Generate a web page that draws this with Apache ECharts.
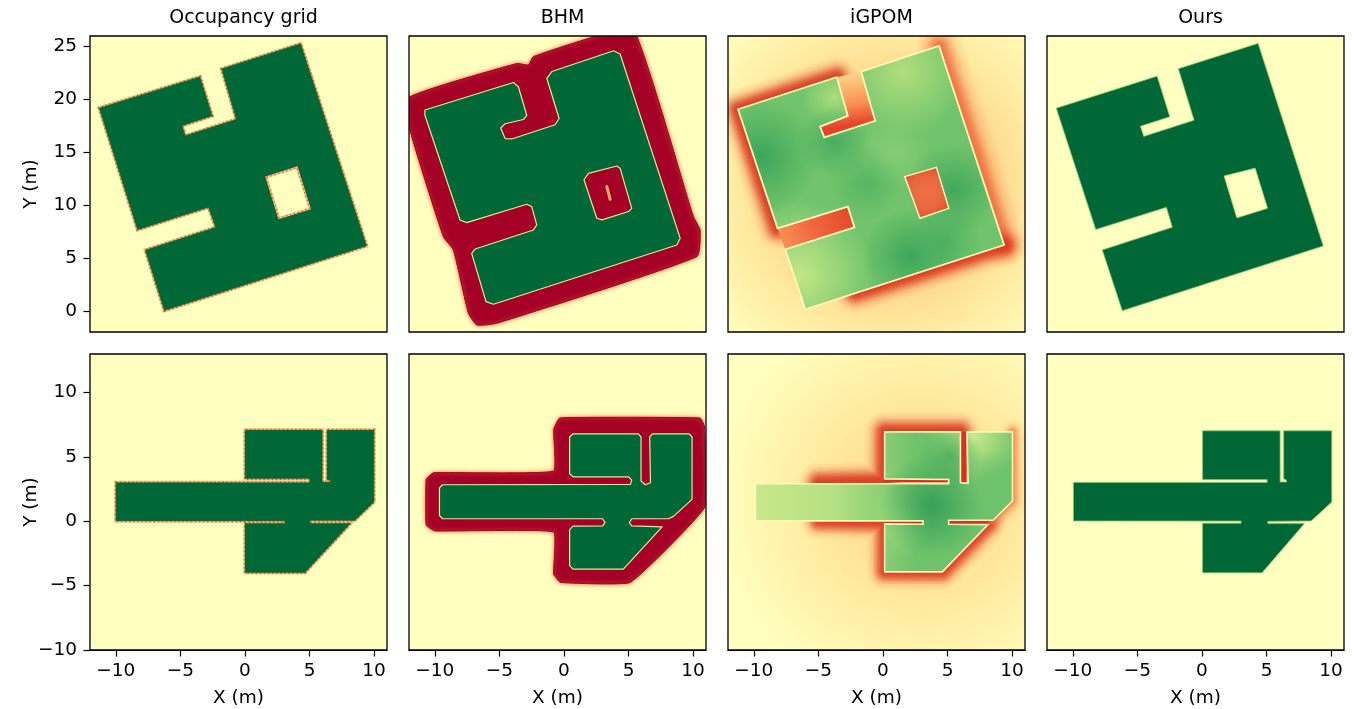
<!DOCTYPE html>
<html>
<head>
<meta charset="utf-8">
<script src="https://cdn.jsdelivr.net/npm/echarts@6/dist/echarts.min.js"></script>
<style>
  html, body { margin: 0; background: #fff; }
  #chart { width: 1357px; height: 709px; }
</style>
</head>
<body>
<div id="chart"></div>
<script>
// labels
const titles = ["Occupancy grid", "BHM", "iGPOM", "Ours"];
const xName = "X (m)";
const yName = "Y (m)";

// axis limits and ticks, row 0 = rotated room, row 1 = corridor map
const xLimTop = [-7, 21];
const yLimTop = [-2, 26];
const xLimBottom = [-12, 11];
const yLimBottom = [-10, 13];
const yTicksTop = [0, 5, 10, 15, 20, 25];
const xTicksBottom = [-10, -5, 0, 5, 10];
const yTicksBottom = [-10, -5, 0, 5, 10];

// outlines, in metres
const occTop = [[0,0],[19.1,6.14],[12.87,25.3],[5.39,22.9],[6.77,18.13],[1.99,16.58],[1.71,17.5],[4.54,18.44],[3.38,22.16],[-6.15,19.2],[-2.53,7.65],[4.16,9.77],[4.82,7.9],[-1.81,5.76]];
const occTopHole = [[9.63,12.64],[12.5,13.55],[13.72,9.67],[10.83,8.79]];
const occBottom = [[-10,3.02],[5,3.02],[5,3.3],[0,3.3],[0,7.1],[6,7.1],[6,3.05],[6.6,3.05],[6.6,3.2],[6.35,3.2],[6.35,7.1],[10,7.1],[10,1.5],[8.5,0.05],[5.05,0.05],[5.05,-0.15],[8.2,-0.15],[4.65,-4],[0,-4],[0,-0.15],[3.1,-0.15],[3.1,0.02],[-10,0.02]];

const bhmTopOuter = [[-7,20.2],[3.16,23.4],[4.26,23.27],[4.73,24.05],[10.7,26],[14.2,26.6],[19.82,8.9],[20.45,7.65],[20.14,5.13],[1.27,-1.18],[-0.6,-1.34],[-1.4,-0.23],[-2.82,5.76],[-3.76,7.02],[-7,17.43]];
const bhmTopInner = [[-5.5,19],[2.84,21.6],[3.31,21.2],[4.1,18.5],[3.79,18.1],[2.06,17.7],[1.65,17.3],[2.06,16.3],[2.69,16.26],[6.77,17.6],[7.15,18.2],[5.99,22],[6.46,22.64],[12.3,24.6],[12.9,24.3],[18.57,6.86],[18.25,6.23],[0.96,0.62],[0.26,0.87],[-1.09,5.44],[-0.77,5.85],[4.73,7.65],[5.04,8.13],[4.57,9.86],[4.1,10.08],[-1.56,8.35],[-2.19,8.6],[-5.5,18.5]];
const bhmTopHole = [[9.92,13],[12.6,13.7],[12.9,13.5],[14,9.7],[13.7,9.4],[11.2,8.6],[10.7,8.76],[9.5,12.4]];
const bhmTopSpot = [[11.65,11.75],[11.96,10.55]];
const bhmBottomOuter = [[-10.67,3.26],[-10.1,3.77],[-0.8,3.9],[-0.8,7.13],[-0.33,8.03],[10.54,8.03],[10.88,7.4],[10.88,1.06],[5.14,-4.75],[-0.28,-4.75],[-0.8,-4.1],[-0.8,-0.83],[-10,-0.75],[-10.67,-0.3]];
const bhmBottomInner = [[-9.64,2.6],[-9.4,2.84],[5.15,2.87],[5.25,3.2],[5,3.46],[0.7,3.46],[0.44,3.7],[0.44,6.55],[0.7,6.8],[5.75,6.8],[5.97,6.55],[5.97,3.13],[6.3,2.84],[6.7,3],[6.64,6.55],[6.85,6.8],[9.7,6.8],[9.92,6.55],[9.92,1.7],[8.5,0.4],[8.1,0.2],[5.25,0.2],[5.06,-0.1],[5.25,-0.36],[7.6,-0.44],[4.6,-3.72],[0.7,-3.72],[0.44,-3.45],[0.44,-0.65],[0.7,-0.38],[3.0,-0.36],[3.18,-0.1],[3.0,0.2],[-9.4,0.2],[-9.64,0.45]];

const gpTop = [[-6.05,19.07],[3.25,22.1],[4.3,18.44],[1.68,17.43],[2.08,16.42],[6.88,17.97],[5.55,22.64],[12.9,25.06],[19.03,6.23],[0.29,0.14],[-1.6,5.82],[4.92,7.9],[4.3,9.86],[-2.33,7.8]];
const gpTopHole = [[9.66,12.7],[12.65,13.58],[13.82,9.7],[11.1,8.76]];
const gpTopNotch = [[3.25,22.1],[4.3,18.44],[1.68,17.43],[2.08,16.42],[6.88,17.97],[5.55,22.64]];
const gpTopSlot = [[-2.33,7.8],[4.3,9.86],[4.92,7.9],[-1.6,5.82]];
const gpTopWallA = [[-2.33,7.8],[-6.05,19.07],[3.25,22.1]];
const gpTopWallB = [[19.03,6.23],[5,1.7]];
const gpTopWallC = [[12.9,25.06],[19.03,6.23]];

const gpBottom = [[-9.87,2.92],[5.09,2.92],[5.09,3.25],[0.13,3.3],[0.13,6.95],[6,6.95],[6,3],[6.6,2.95],[6.5,6.95],[10.03,6.95],[10.03,1.58],[8.53,0.08],[5.09,0.08],[5.09,-0.23],[8.14,-0.26],[4.6,-3.93],[0.13,-3.93],[0.13,-0.2],[3.1,-0.23],[3.1,0.03],[-9.87,0.03]];
const gpBottomWallA = [[-5,3],[0.13,3.1],[0.13,6.95],[6,6.95]];
const gpBottomWallB = [[-5,0],[0.13,-0.1],[0.13,-3.93],[4.6,-3.93],[8.14,-0.26]];
const gpBottomWallC = [[0.13,3.15],[5.09,3.15]];
const gpBottomWallD = [[6.25,6.95],[6.25,3]];
const gpBottomWallE = [[0.13,-0.1],[3.1,-0.1]];
const gpBottomWallF = [[5.09,-0.1],[8.14,-0.1]];
const gpBottomWallG = [[10.03,6.95],[10.03,1.58],[8.53,0.08]];

const oursTop = [[-6.12,19.17],[3.38,22.2],[4.57,18.36],[1.8,17.47],[2.12,16.5],[6.87,18.03],[5.39,22.9],[12.9,25.3],[19.04,6.14],[0.1,0.02],[-1.78,5.76],[4.82,7.9],[4.26,9.8],[-2.4,7.7]];
const oursTopHole = [[9.7,12.76],[12.62,13.49],[13.79,9.7],[10.9,8.8]];
const oursBottom = [[-9.95,3.02],[5.05,3.02],[5.05,3.25],[0.05,3.25],[0.05,7.03],[6.05,7.03],[6.05,3.05],[6.55,3.05],[6.55,3.2],[6.33,3.3],[6.33,7.03],[10.05,7.03],[10.05,1.5],[8.45,0.03],[5.1,0],[5.1,-0.18],[7.93,-0.18],[4.65,-4],[0.05,-4],[0.05,-0.15],[3.03,-0.15],[3.03,0.02],[-9.95,0.03]];

// RdYlGn ends
const CREAM = "#ffffbf", GREEN = "#006837", RED = "#a50026";

function occLayers(shape, hole) {
  const out = [
    { pts: shape, fill: GREEN, stroke: "#fdbf80", lw: 3.2 },
    { pts: shape, stroke: "#ee5535", lw: 2.4, dash: [1.5, 2.6] },
    { pts: shape, fill: GREEN, stroke: "#3f8a3f", lw: 0.4 }
  ];
  if (hole) {
    out.push({ pts: hole, fill: CREAM, stroke: "#fdbf80", lw: 2 });
    out.push({ pts: hole, stroke: "#ee5535", lw: 1.3, dash: [1.5, 2.6] });
  }
  return out;
}

function oursLayers(shape, hole) {
  const out = [{ pts: shape, fill: GREEN, stroke: "#7fbf5f", lw: 0.8 }];
  if (hole) out.push({ pts: hole, fill: CREAM, stroke: "#b5d97a", lw: 0.8 });
  return out;
}

// halo along a wall: stacked see-through strokes, wide to narrow, denser near the wall
function glow(pts, rgb, maxWidth, alpha) {
  const out = [];
  for (let w = maxWidth; w > 0; w -= 3) {
    const t = 1 - w / maxWidth;
    const color = "rgba(" + rgb + "," + (alpha * (0.06 + 0.94 * t * t)).toFixed(3) + ")";
    out.push({ pts, open: true, stroke: color, lw: w, blur: 7, shadow: color, join: "round", cap: "round" });
  }
  return out;
}
// soft round patch of colour, always painted through the room outline
function blob(shape, c, r, color) {
  return { pts: shape, radial: { c, r, stops: [color, color.replace(/[\d.]+\)$/, "0)")] } };
}

const panelLayers = [
  occLayers(occTop, occTopHole),
  [
    { pts: bhmTopOuter, fill: RED, stroke: RED, lw: 1, blur: 4, shadow: "#ee7a45", smooth: 0.15 },
    { pts: bhmTopInner, fill: GREEN, stroke: "#dcec9a", lw: 1.2, join: "round" },
    { pts: bhmTopHole, fill: RED, stroke: "#dcec9a", lw: 1.2, join: "round" },
    { pts: bhmTopSpot, open: true, stroke: "#f8b060", lw: 3, cap: "round" }
  ],
  [
    { pts: [[-7,-2],[21,-2],[21,26],[-7,26]], radial: { c: [8, 12], r: 21, stops: ["#fcc076", "#fdcc82", "#feeaa0", "#ffffbf"] } },
    ...glow(gpTopWallC, "238,106,60", 48, 0.3),
    ...glow(gpTopWallA, "222,60,38", 40, 0.5),
    ...glow(gpTopWallB, "222,60,38", 40, 0.5),
    { pts: gpTopNotch, gradient: { from: [5.2, 17.6], to: [4.4, 23.5], stops: ["#e2432a", "#f98e52", "#fcc078", "#fee6a0"] } },
    { pts: gpTopSlot, gradient: { from: [4.6, 8.8], to: [-2.5, 6.6], stops: ["#e44a2c", "#f1683e", "#f99556"] } },
    { pts: gpTop, fill: "#72c46c" },
    blob(gpTop, [-0.3, 3.4], 7, "rgba(196,230,136,1)"),
    blob(gpTop, [9.5, 22.6], 6, "rgba(176,222,126,1)"),
    blob(gpTop, [3, 20.2], 3, "rgba(170,220,122,1)"),
    blob(gpTop, [8.5, 15], 3.5, "rgba(140,208,120,0.8)"),
    blob(gpTop, [-3.9, 14.6], 5.5, "rgba(60,165,90,1)"),
    blob(gpTop, [10.2, 5.2], 4.5, "rgba(60,165,90,1)"),
    blob(gpTop, [13.5, 6.5], 3.5, "rgba(70,170,95,0.8)"),
    blob(gpTop, [14.3, 11.5], 4.5, "rgba(65,168,92,1)"),
    blob(gpTop, [3, 16], 3.5, "rgba(68,170,95,0.9)"),
    blob(gpTop, [6, 12], 3.5, "rgba(80,178,100,0.8)"),
    { pts: gpTop, stroke: "#fdf6b4", lw: 1.8 },
    { pts: gpTopHole, radial: { c: [11.7, 11.2], r: 2.9, stops: ["#ed7148", "#ea6840", "#dc4a2c"] }, stroke: "#fdf6b4", lw: 1.4 }
  ],
  oursLayers(oursTop, oursTopHole),
  occLayers(occBottom),
  [
    { pts: bhmBottomOuter, fill: RED, stroke: RED, lw: 1, blur: 4, shadow: "#ee7a45", smooth: 0.1 },
    { pts: bhmBottomInner, fill: GREEN, stroke: "#dcec9a", lw: 1.2, join: "round" }
  ],
  [
    { pts: [[-12,-10],[11,-10],[11,13],[-12,13]], radial: { c: [3, 1.5], r: 16, stops: ["#fdd58a", "#fee296", "#fff1aa", "#ffffbf"] } },
    ...glow(gpBottomWallA, "222,60,38", 40, 0.5),
    ...glow(gpBottomWallB, "222,60,38", 36, 0.5),
    ...glow(gpBottomWallG, "238,106,60", 26, 0.35),
    { pts: gpBottomWallC, open: true, stroke: "#d73027", lw: 3 },
    { pts: gpBottomWallD, open: true, stroke: "#d73027", lw: 6 },
    { pts: gpBottomWallE, open: true, stroke: "#d73027", lw: 3 },
    { pts: gpBottomWallF, open: true, stroke: "#d73027", lw: 3 },
    { pts: gpBottom, gradient: { from: [-10, 0], to: [2.5, 0], stops: ["#c9e88c", "#b5e083", "#6fc26b"] } },
    blob(gpBottom, [7, 6.6], 3.6, "rgba(205,234,140,1)"),
    blob(gpBottom, [1, 0], 2.8, "rgba(150,214,122,1)"),
    blob(gpBottom, [3.8, 1.2], 4, "rgba(55,160,88,1)"),
    blob(gpBottom, [5.2, 5], 2.5, "rgba(70,170,95,0.8)"),
    blob(gpBottom, [8.7, 3], 2.5, "rgba(110,195,108,0.8)"),
    { pts: gpBottom, stroke: "#fdf6b4", lw: 1.6 }
  ],
  oursLayers(oursBottom)
];

// grid boxes of the subplots, in pixels
const colLeft = [90, 409, 728, 1047];
const rowTop = [36, 354];
const boxW = 297;
const boxH = 296;
const fontFamily = "DejaVu Sans";
const labelFont = 18.5;

function renderLayer(panel, params, api) {
  const layer = panelLayers[panel][params.dataIndex];
  const pts = layer.pts.map(p => api.coord(p));
  let fill = layer.fill || null;
  if (layer.gradient) {
    const g = layer.gradient;
    const a = api.coord(g.from), b = api.coord(g.to);
    const stops = g.stops.map((c, i) => ({ offset: i / (g.stops.length - 1), color: c }));
    fill = new echarts.graphic.LinearGradient(a[0], a[1], b[0], b[1], stops, true);
  }
  if (layer.radial) {
    const g = layer.radial;
    const a = api.coord(g.c), b = api.coord([g.c[0] + g.r, g.c[1]]);
    const stops = g.stops.map((c, i) => ({ offset: i / (g.stops.length - 1), color: c }));
    fill = new echarts.graphic.RadialGradient(a[0], a[1], b[0] - a[0], stops, true);
  }
  const style = {
    fill: layer.open ? null : fill,
    stroke: layer.stroke || null,
    lineWidth: layer.lw || 0,
    shadowBlur: layer.blur || 0,
    shadowColor: layer.shadow || "transparent",
    lineJoin: layer.join || "miter",
    lineCap: layer.cap || "butt"
  };
  if (layer.dash) style.lineDash = layer.dash;
  const shape = { points: pts };
  if (layer.smooth) shape.smooth = layer.smooth;
  return { type: layer.open ? "polyline" : "polygon", shape: shape, style: style };
}

const grids = [], xAxes = [], yAxes = [], series = [], titleOpts = [];
const axisText = { color: "#000", fontFamily: fontFamily, fontSize: labelFont };
const minusFmt = v => String(v).replace("-", "\u2212");
const tickLine = { color: "#000", width: 1.2 };

rowTop.forEach((top, r) => {
  colLeft.forEach((left, c) => {
    const idx = r * 4 + c;
    grids.push({
      left: left, top: top, width: boxW, height: boxH,
      show: true, z: 10, containLabel: false, outerBoundsMode: "none",
      backgroundColor: "transparent", borderColor: "#000", borderWidth: 1.3
    });
    const xl = r === 0 ? xLimTop : xLimBottom;
    const yl = r === 0 ? yLimTop : yLimBottom;
    const yTicks = r === 0 ? yTicksTop : yTicksBottom;
    xAxes.push({
      type: "value", gridIndex: idx, min: xl[0], max: xl[1],
      name: r === 1 ? xName : "", nameLocation: "middle", nameGap: 39, nameMoveOverlap: false,
      nameTextStyle: axisText,
      splitLine: { show: false },
      axisLine: { show: r === 1, onZero: false, lineStyle: tickLine },
      axisTick: r === 1
        ? { show: true, length: 6.5, lineStyle: tickLine, customValues: xTicksBottom }
        : { show: false },
      axisLabel: r === 1
        ? { show: true, margin: 12, formatter: minusFmt, customValues: xTicksBottom, hideOverlap: false, ...axisText }
        : { show: false }
    });
    yAxes.push({
      type: "value", gridIndex: idx, min: yl[0], max: yl[1],
      name: c === 0 ? yName : "", nameLocation: "middle", nameGap: 49, nameMoveOverlap: false,
      nameTextStyle: axisText,
      splitLine: { show: false },
      axisLine: { show: c === 0, onZero: false, lineStyle: tickLine },
      axisTick: c === 0
        ? { show: true, length: 6.5, lineStyle: tickLine, customValues: yTicks }
        : { show: false },
      axisLabel: c === 0
        ? { show: true, margin: 13, formatter: minusFmt, customValues: yTicks, ...axisText }
        : { show: false }
    });
    // cream field under the map
    series.push({
      type: "custom", xAxisIndex: idx, yAxisIndex: idx, silent: true, clip: true, animation: false, z: 1,
      data: [[xl[0], yl[0], xl[1], yl[1]]],
      renderItem: (params, api) => {
        const a = api.coord([api.value(0), api.value(1)]);
        const b = api.coord([api.value(2), api.value(3)]);
        return { type: "rect", shape: { x: a[0], y: b[1], width: b[0] - a[0], height: a[1] - b[1] }, style: { fill: CREAM } };
      }
    });
    series.push({
      type: "custom", xAxisIndex: idx, yAxisIndex: idx, silent: true, clip: true, animation: false, z: 2,
      data: panelLayers[idx].map((l, i) => [i]),
      renderItem: (params, api) => renderLayer(idx, params, api)
    });
  });
});

colLeft.forEach((left, c) => {
  titleOpts.push({
    text: titles[c], left: left + boxW / 2, top: 4, textAlign: "center",
    textStyle: { color: "#000", fontFamily: fontFamily, fontSize: 19, fontWeight: "normal" }
  });
});

const chart = echarts.init(document.getElementById("chart"), null, { renderer: "canvas" });
chart.setOption({
  animation: false,
  backgroundColor: "#fff",
  title: titleOpts,
  grid: grids,
  xAxis: xAxes,
  yAxis: yAxes,
  series: series
});
</script>
</body>
</html>
